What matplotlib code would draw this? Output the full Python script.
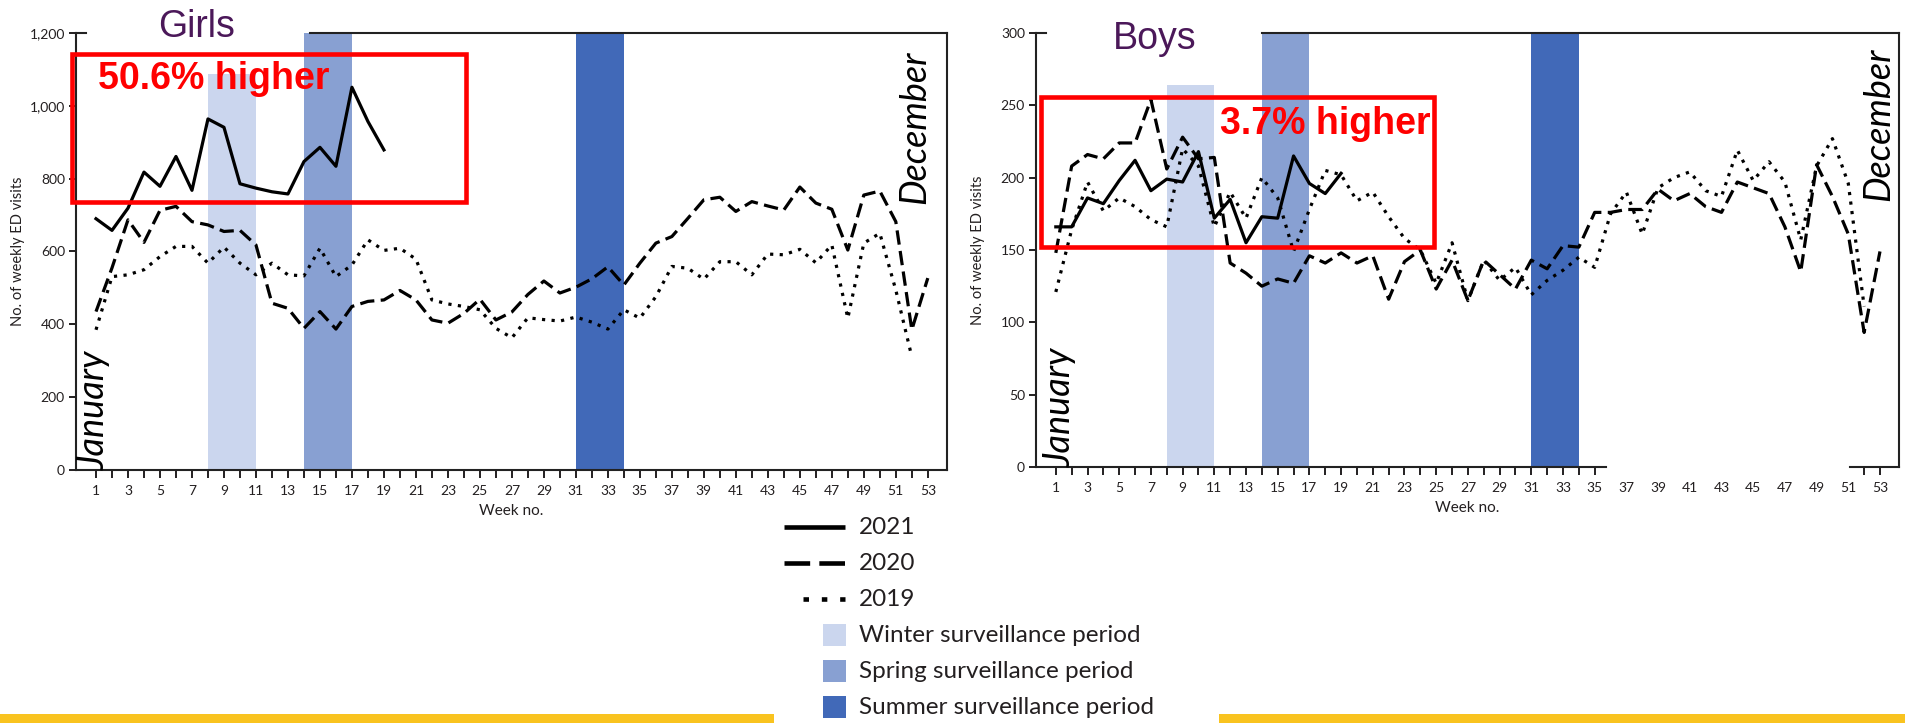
import matplotlib.pyplot as plt
from matplotlib.patches import Rectangle
from matplotlib.ticker import StrMethodFormatter

plt.rcParams['font.family'] = ['Lato', 'DejaVu Sans']

# ---- data (weekly ED visits) ----
weeks = list(range(1, 54))
weeks_2021 = list(range(1, 20))
weeks_2019 = list(range(1, 53))

girls_2021 = [690, 658, 719, 818, 779, 861, 768, 964, 941, 786, 774, 764, 758, 847,
              886, 834, 1051, 957, 879]
girls_2020 = [435, 555, 687, 625, 713, 724, 682, 673, 655, 658, 618, 458, 444, 389,
              435, 387, 449, 463, 467, 493, 467, 412, 403, 430, 469, 412, 434, 482,
              519, 486, 502, 525, 558, 508, 568, 623, 641, 691, 742, 749, 710, 737,
              725, 714, 777, 733, 716, 604, 755, 766, 682, 385, 527]
girls_2019 = [385, 531, 536, 550, 586, 614, 614, 568, 612, 568, 536, 568, 536, 533,
              609, 531, 563, 632, 603, 609, 579, 467, 456, 449, 440, 389, 363, 418,
              413, 409, 420, 406, 387, 440, 417, 476, 559, 554, 524, 572, 572, 536,
              593, 591, 606, 569, 618, 417, 623, 650, 494, 311]

boys_2021 = [166, 166, 186, 182, 198, 212, 191, 199, 197, 218, 172, 185, 155, 173,
             172, 215, 196, 189, 203]
boys_2020 = [148, 208, 216, 213, 224, 224, 254, 206, 228, 213, 214, 141, 134, 125,
             130, 127, 146, 141, 148, 141, 146, 116, 142, 150, 123, 143, 115, 143,
             133, 123, 143, 137, 153, 152, 176, 176, 178, 178, 192, 184, 189, 180,
             176, 197, 193, 189, 166, 135, 209, 187, 161, 93, 149]
boys_2019 = [121, 164, 197, 177, 186, 180, 171, 166, 220, 208, 166, 190, 172, 200,
             186, 149, 178, 205, 202, 184, 190, 173, 158, 150, 127, 155, 115, 143,
             129, 138, 119, 129, 136, 145, 138, 175, 190, 161, 193, 200, 204, 191,
             187, 219, 198, 211, 197, 157, 208, 227, 196, 111]

period_names = ["Winter surveillance period", "Spring surveillance period",
                "Summer surveillance period"]
period_start = [8, 14, 31]
period_end = [11, 17, 34]
period_colors = ["#CBD6EE", "#88A0D2", "#4169B8"]
girls_period_top = [1088, 1200, 1200]
boys_period_top = [264, 300, 300]

girls_change = "50.6% higher"
boys_change = "3.7% higher"

TXT = "#231F20"
XLIM = (-0.25, 54.2)


def draw_panel(ax, v2021, v2020, v2019, period_top, ymax, ystep,
               box, label_xy, top_from, jan_x, dec_x, dec_y, change_text):
    for s, e, top, c in zip(period_start, period_end, period_top, period_colors):
        ax.bar(s, top, width=e - s, align="edge", color=c, linewidth=0, zorder=1)

    ax.plot(weeks_2019, v2019, color="black", lw=2.3, dashes=(1.0, 2.0),
            dash_capstyle="butt", zorder=3)
    ax.plot(weeks, v2020, color="black", lw=2.3, dashes=(4.5, 2.0),
            dash_capstyle="butt", zorder=3)
    ax.plot(weeks_2021, v2021, color="black", lw=2.3, zorder=4)

    ax.set_xlim(*XLIM)
    ax.set_ylim(0, ymax)
    ax.set_xticks(weeks)
    ax.set_xticklabels([str(w) if w % 2 else "" for w in weeks])
    ax.set_yticks(range(0, ymax + 1, ystep))
    ax.yaxis.set_major_formatter(StrMethodFormatter("{x:,.0f}"))
    ax.tick_params(axis="x", direction="out", length=6, width=1.4, pad=5,
                   labelsize=10, colors=TXT)
    ax.tick_params(axis="y", direction="out", length=5, width=1.4, pad=3,
                   labelsize=10, colors=TXT)
    for sp in ax.spines.values():
        sp.set_linewidth(1.5)
        sp.set_color("#222222")
    ax.spines["top"].set_bounds(top_from, XLIM[1])
    ax.plot([XLIM[0], XLIM[0] + 0.6], [ymax, ymax], color="#222222", lw=1.5,
            clip_on=False, zorder=5)

    ax.set_xlabel("Week no.", fontsize=11, color=TXT)
    ax.xaxis.set_label_coords(0.5, -0.078)
    ax.set_ylabel("No. of weekly ED visits", fontsize=10.5, color=TXT)
    ax.yaxis.set_label_coords(-0.059, 0.5)

    ax.add_patch(Rectangle((box[0], box[1]), box[2] - box[0], box[3] - box[1],
                           fill=False, edgecolor="#FF0000", lw=3.3,
                           clip_on=False, zorder=6))
    ax.text(label_xy[0], label_xy[1], change_text, color="#FF0000", fontsize=27,
            fontweight="bold", family=["Liberation Sans", "DejaVu Sans"],
            va="center", ha="left", zorder=7)

    ax.text(jan_x, 0, "January", rotation=90, ha="center", va="bottom",
            fontsize=26, style="italic", color="black", zorder=5)
    ax.text(dec_x, dec_y, "December", rotation=90, ha="center", va="top",
            fontsize=26, style="italic", color="black", zorder=5)


fig = plt.figure(figsize=(19.05, 7.23), dpi=100)

ax_g = fig.add_axes([76 / 1905, 1 - 470 / 723, 871 / 1905, 437 / 723])
draw_panel(ax_g, girls_2021, girls_2020, girls_2019, girls_period_top, 1200, 200,
           box=(-0.48, 737, 24.14, 1143), label_xy=(1.14, 1074), top_from=14.4,
           jan_x=0.9, dec_x=52.2, dec_y=1153, change_text=girls_change)

ax_b = fig.add_axes([1036 / 1905, 1 - 467 / 723, 863 / 1905, 434 / 723])
draw_panel(ax_b, boys_2021, boys_2020, boys_2019, boys_period_top, 300, 50,
           box=(0.05, 152.3, 24.85, 255.5), label_xy=(11.35, 237), top_from=14.0,
           jan_x=1.25, dec_x=52.9, dec_y=290, change_text=boys_change)

# boys x axis line has a gap between week ~36 and ~51
ax_b.spines["bottom"].set_bounds(XLIM[0], 35.7)
ax_b.plot([51.1, XLIM[1]], [0, 0], color="#222222", lw=1.5, clip_on=False, zorder=5)
for w, tick in zip(weeks, ax_b.xaxis.get_major_ticks()):
    if 36 <= w <= 51:
        tick.tick1line.set_visible(False)

fig.text(197 / 1905, 1 - 37 / 723, "Girls", ha="center", va="baseline", fontsize=27,
         color="#4B1859", family=["Liberation Sans", "DejaVu Sans"])
fig.text(1155 / 1905, 1 - 49 / 723, "Boys", ha="center", va="baseline", fontsize=27,
         color="#4B1859", family=["Liberation Sans", "DejaVu Sans"])

# ---- legend and footer bars, drawn in a pixel-space overlay ----
lax = fig.add_axes([0, 0, 1, 1], zorder=-1)
lax.set_xlim(0, 1905)
lax.set_ylim(723, 0)
lax.axis("off")

lax.add_patch(Rectangle((0, 714), 774, 9, color="#F9C31F", lw=0))
lax.add_patch(Rectangle((1219, 714), 1905 - 1219, 9, color="#F9C31F", lw=0))

rows = [527, 563, 599, 635, 671, 707]
lax.plot([784, 845], [rows[0]] * 2, color="black", lw=3.3, solid_capstyle="butt")
lax.plot([784, 845], [rows[1]] * 2, color="black", lw=3.3, dashes=(5.6, 2.0),
         dash_capstyle="butt")
lax.plot([803, 845], [rows[2]] * 2, color="black", lw=3.3, dashes=(1.2, 2.8),
         dash_capstyle="butt")
for y, name in zip(rows[:3], ["2021", "2020", "2019"]):
    lax.text(859, y, name, va="center", ha="left", fontsize=17.5, color=TXT)
for y, name, c in zip(rows[3:], period_names, period_colors):
    lax.add_patch(Rectangle((823, y - 11), 23, 22, color=c, lw=0))
    lax.text(859, y, name, va="center", ha="left", fontsize=17.5, color=TXT)

fig.savefig("out.png", dpi=100)
